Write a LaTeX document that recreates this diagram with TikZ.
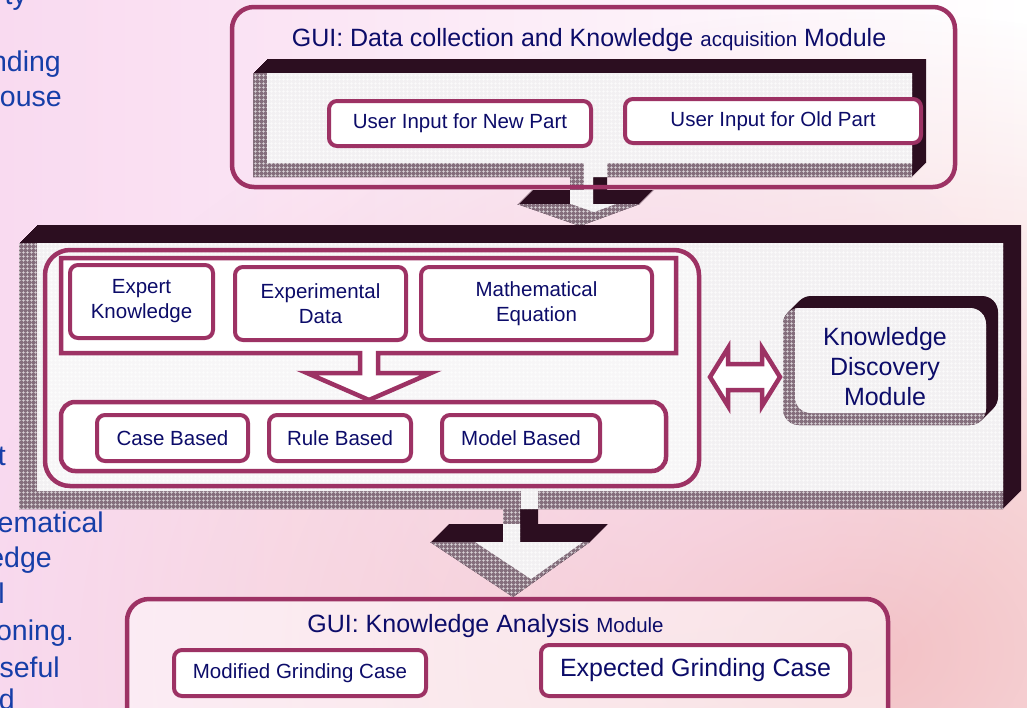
\documentclass[tikz,border=0pt]{standalone}
\usepackage{fontspec}
\setmainfont{Liberation Sans}
\usetikzlibrary{patterns.meta,fadings}

\definecolor{boxline}{RGB}{157,50,100}
\definecolor{boxtext}{RGB}{12,12,105}
\definecolor{bevdark}{RGB}{44,14,32}
\definecolor{bevgray}{RGB}{132,110,124}
\definecolor{slideblue}{RGB}{22,62,168}
\definecolor{slidepink}{RGB}{249,218,240}
\definecolor{slidepeach}{RGB}{242,190,194}

\tikzfading[name=softglow, inner color=transparent!0, outer color=transparent!100]

% outlines of the three bevelled frames
\newcommand{\acqshape}{(253,73) -- (253,177) -- (570,177) -- (570,204) -- (517,204) -- (580,226) -- (640,204) -- (593,204) -- (593,177) -- (912,177) -- (912,73) -- cycle}
\newcommand{\kbshape}{(19,243) -- (19,509) -- (503,509) -- (503,542) -- (430,542) -- (513,597) -- (590,542) -- (520,542) -- (520,509) -- (1003,509) -- (1003,243) -- cycle}
\newcommand{\kdshape}{[rounded corners=16pt] (783,308) rectangle (986,425)}

% dark outer walls, checkered inner walls, light window
\newcommand{\bevelframe}[2]{%
  \foreach \off in {0,...,#2} \fill[bevdark, shift={(\off,-\off)}] #1;
  \fill[checkered] #1;
  \begin{scope}
    \clip #1;
    \fill[window, shift={(#2,-#2)}] #1;
  \end{scope}}

\tikzset{
  checkered/.style={fill=bevgray, postaction={pattern={Hatch[angle=0,distance=4pt,line width=0.6pt]}, pattern color=white!75!bevgray}},
  window/.style={fill=white, fill opacity=0.9},
  module/.style={draw=boxline, line width=4.5pt, rounded corners=22pt},
  group/.style={draw=boxline, line width=4.5pt},
  hollow/.style={draw=boxline, line width=4.5pt, fill=white, line join=miter},
  boxlabel/.style={text=boxtext, font=\fontsize{20.5}{25}\selectfont, align=center},
  bigger/.style={font=\fontsize{25}{30}\selectfont},
  box/.style={boxlabel, draw=boxline, line width=4pt, fill=white, rounded corners=8pt, inner sep=0pt},
  sidetext/.style={text=slideblue, font=\fontsize{28.5}{32}\selectfont, anchor=base east, inner sep=0pt}
}

\begin{document}
\begin{tikzpicture}[x=1pt, y=-1pt]
\useasboundingbox (0,0) rectangle (1027,707);
\clip (0,0) rectangle (1027,707);
% slide background
\shade[left color=slidepink, right color=white] (0,0) rectangle (1027,707);
\fill[slidepeach, path fading=softglow, fill opacity=0.95] (860,650) ellipse [x radius=900, y radius=640];
\fill[slidepink, path fading=softglow, fill opacity=0.6] (650,420) ellipse [x radius=400, y radius=320];

% slide text behind the diagram
\node[sidetext] (ty) at (27,4) {ty};
\node[sidetext] (nding) at (61,71) {nding};
\node[sidetext] (ouse) at (62,106) {ouse};
\node[sidetext] (tt) at (6,465) {t};
\node[sidetext] (ematical) at (104,532) {ematical};
\node[sidetext] (edge) at (52,567) {edge};
\node[sidetext] (ll) at (5,603) {l};
\node[sidetext] (oning) at (74,640) {oning.};
\node[sidetext] (seful) at (60,677) {seful};
\node[sidetext] (dd) at (15,709) {d};

% acquisition module
\bevelframe{\acqshape}{14}
\draw[module] (232,7) rectangle (955,187);
\node[boxlabel, bigger, anchor=base] (acqtitle) at (589,46) {GUI: Data collection and Knowledge {\fontsize{20.5}{25}\selectfont acquisition} Module};
\node[box, minimum width=262pt, minimum height=45pt] (newpart) at (460,123.5) {User Input for New Part};
\node[box, minimum width=296pt, minimum height=44pt] (oldpart) at (773,121) {User Input for Old Part};

% knowledge base
\bevelframe{\kbshape}{18}
\draw[group, rounded corners=25pt, fill=white, fill opacity=0.4] (45,250) rectangle (699,486);
\draw[hollow] (360,353) -- (61,353) -- (61,258) -- (676,258) -- (676,353) -- (378,353) -- (378,373) -- (431,373) -- (369,400) -- (307,373) -- (360,373) -- cycle;
\node[box, minimum width=143pt, minimum height=73pt] (expert) at (141.5,301.5) {Expert\\Knowledge};
\node[box, minimum width=171pt, minimum height=73pt] (experimental) at (320.5,303.5) {Experimental\\Data};
\node[box, minimum width=231pt, minimum height=73pt] (mathematical) at (536.5,303.5) {Mathematical\\Equation};
\draw[group, rounded corners=14pt, fill=white] (61,402) rectangle (666,471);
\node[box, minimum width=151pt, minimum height=46pt] (casebased) at (172.5,438) {Case Based};
\node[box, minimum width=142pt, minimum height=46pt] (rulebased) at (340,438) {Rule Based};
\node[box, minimum width=158pt, minimum height=46pt] (modelbased) at (521,438) {Model Based};

% two-way link
\draw[hollow] (710,377) -- (728,348) -- (728,364) -- (762,364) -- (762,348) -- (780,377) -- (762,406) -- (762,390) -- (728,390) -- (728,406) -- cycle;

% discovery module
\bevelframe{\kdshape}{12}
\node[boxlabel, bigger] (discovery) at (885,367) {Knowledge\\Discovery\\Module};

% analysis module
\draw[module, fill=white, fill opacity=0.5] (127,599) rectangle (888,740);
\node[boxlabel, bigger, anchor=base] (anatitle) at (485.5,632) {GUI: Knowledge Analysis {\fontsize{20.5}{25}\selectfont Module}};
\node[box, minimum width=252pt, minimum height=46pt] (modified) at (300,673) {Modified Grinding Case};
\node[box, bigger, minimum width=309pt, minimum height=51pt] (expected) at (695.5,670.5) {Expected Grinding Case};
\end{tikzpicture}
\end{document}
